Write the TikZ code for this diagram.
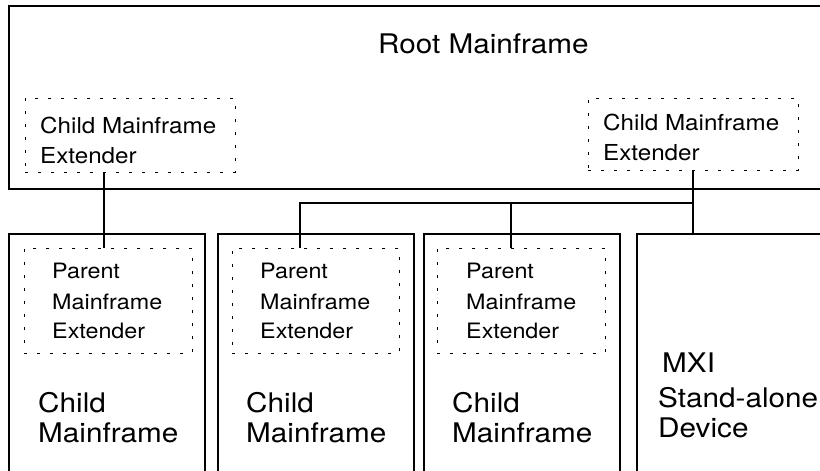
\documentclass[tikz,border=0pt]{standalone}
\usepackage{fontspec}
\setmainfont{TeX Gyre Heros}[FakeStretch=1.1]
\begin{document}
\begin{tikzpicture}[x=1pt,y=-1pt,
  box/.style={draw, line width=1.8pt, anchor=north west, inner sep=0pt},
  ext/.style={draw, line width=0.9pt, dash pattern=on 3pt off 10pt, anchor=north west, inner sep=0pt},
  wire/.style={line width=1.5pt},
  lbl/.style={anchor=base west, inner sep=0pt, font=\fontsize{22}{22}\selectfont},
  plbl/.style={anchor=base west, inner sep=0pt, font=\fontsize{21.2}{21.2}\selectfont},
  big/.style={anchor=base west, inner sep=0pt, font=\fontsize{27}{27}\selectfont}]
\useasboundingbox (0,0) rectangle (820,471);

% outer frames
\node[box, minimum width=820pt, minimum height=183pt] (root) at (8,5) {};
\node[box, minimum width=196pt, minimum height=250pt] (cm1) at (8,233) {};
\node[box, minimum width=196pt, minimum height=250pt] (cm2) at (217,233) {};
\node[box, minimum width=196pt, minimum height=250pt] (cm3) at (423,233) {};
\node[box, minimum width=200pt, minimum height=250pt] (dev) at (636,233) {};

% extender boards
\node[ext, minimum width=210pt, minimum height=74pt] (cmeL) at (25,98) {};
\node[ext, minimum width=210pt, minimum height=72pt] (cmeR) at (588,98) {};
\node[ext, minimum width=168pt, minimum height=105pt] (pme1) at (24,248) {};
\node[ext, minimum width=167pt, minimum height=105pt] (pme2) at (232,248) {};
\node[ext, minimum width=168pt, minimum height=105pt] (pme3) at (437,248) {};

% labels
\node[big] (tRoot) at (378,53) {Root Mainframe};
\node[lbl] (tL1) at (40,133) {Child Mainframe};
\node[lbl] (tL2) at (40,163) {Extender};
\node[lbl] (tR1) at (603,130) {Child Mainframe};
\node[lbl] (tR2) at (603,160) {Extender};

\foreach \n/\x in {a/52, b/260, c/466} {
  \node[plbl] (p\n1) at (\x,278) {Parent};
  \node[plbl] (p\n2) at (\x,309) {Mainframe};
  \node[plbl] (p\n3) at (\x,338) {Extender};
}
\foreach \n/\x in {a/38, b/246, c/452} {
  \node[big] (c\n1) at (\x,412) {Child};
  \node[big] (c\n2) at (\x,442) {Mainframe};
}
\node[big] (d1) at (662,372) {MXI};
\node[big] (d2) at (658,407) {Stand-alone};
\node[big] (d3) at (658,437) {Device};

% MXI cabling
\coordinate (bus) at (693,203);
\draw[wire] (cmeL.south -| 104,0) -- (pme1.north -| 104,0);
\draw[wire] (cmeR.south -| bus) -- (dev.north -| bus);
\draw[wire] (pme2.north -| 300,0) |- (bus);
\draw[wire] (pme3.north -| 511,0) -- (511,203);
\end{tikzpicture}
\end{document}
